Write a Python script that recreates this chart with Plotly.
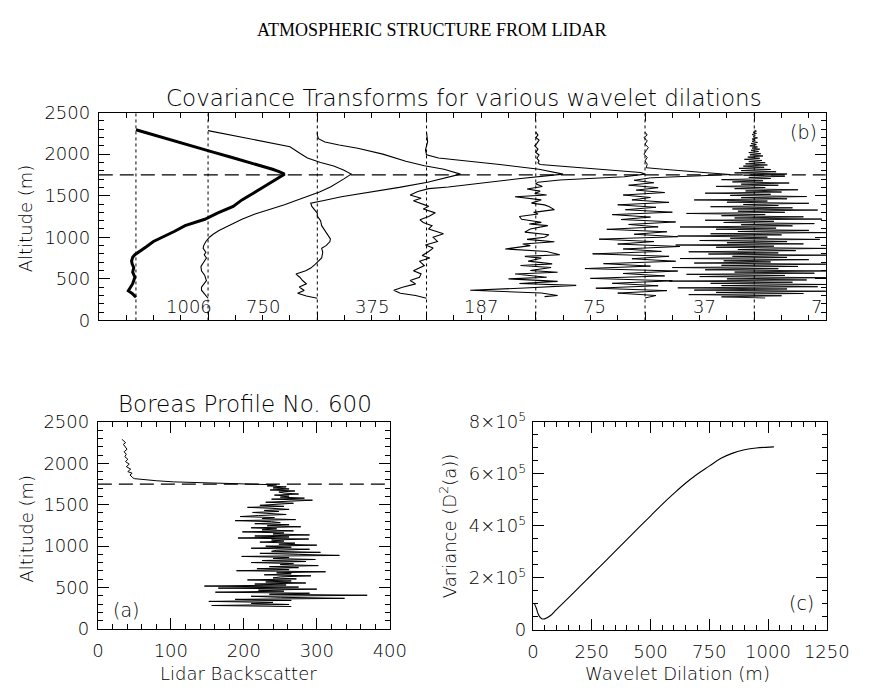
import numpy as np
import plotly.graph_objects as go

# ---------------------------------------------------------------
# Panel (b): Haar covariance transforms of the lidar profile
# (values are normalised covariance, plotted relative to a baseline)
# ---------------------------------------------------------------
DILATIONS = [1006, 750, 375, 187, 75, 37, 7]

ALT_1006 = [2294, 2200, 2100, 2031, 1960, 1895, 1818, 1790, 1760, 1720,
            1682, 1600, 1527, 1450, 1372, 1294, 1217, 1140, 1070, 1004,
            950, 887, 840, 791, 760, 713, 680, 636, 580, 520,
            480, 442, 400, 357, 320, 279]
COV_1006 = [0.00, 0.24, 0.50, 0.69, 0.88, 1.06, 1.25, 1.31, 1.36, 1.31,
            1.26, 1.16, 1.07, 0.97, 0.89, 0.75, 0.63, 0.45, 0.35, 0.24,
            0.16, 0.095, 0.04, -0.01, -0.03, -0.04, -0.035, -0.02, -0.03, -0.01,
            -0.02, -0.03, -0.05, -0.07, -0.03, 0.00]

ALT_750 = [2283, 2200, 2147, 2089, 2010, 1953, 1900, 1857, 1810, 1760,
           1700, 1650, 1605, 1545, 1488, 1430, 1392, 1333, 1280, 1217,
           1150, 1081, 1040, 1004, 950, 900, 868, 820, 790, 752,
           700, 650, 597, 540, 480, 430, 400, 364, 320, 267]
COV_750 = [0.00, 0.33, 0.55, 0.75, 0.84, 0.91, 1.03, 1.15, 1.24, 1.31,
           1.24, 1.17, 1.12, 1.02, 0.91, 0.78, 0.70, 0.55, 0.43, 0.31,
           0.20, 0.10, 0.05, 0.015, -0.02, -0.04, -0.045, -0.02, -0.035, -0.015,
           -0.04, -0.065, -0.06, -0.03, -0.015, -0.04, -0.06, -0.06, -0.03, 0.00]

ALT_375 = [2264, 2230, 2186, 2147, 2110, 2070, 2000, 1915, 1860, 1818,
           1760, 1710, 1663, 1600, 1547, 1488, 1440, 1411, 1372, 1330,
           1290, 1256, 1200, 1140, 1080, 1023, 980, 946, 900, 868,
           820, 752, 710, 674, 630, 597, 558, 520, 480, 440,
           403, 360, 326, 295, 267]
COV_375 = [0.00, 0.00, 0.01, 0.07, 0.20, 0.37, 0.60, 0.81, 0.98, 1.16,
           1.31, 1.16, 1.01, 0.75, 0.51, 0.22, 0.05, -0.06, -0.05, -0.02,
           0.00, 0.00, 0.03, 0.04, 0.07, 0.10, 0.12, 0.115, 0.08, 0.04,
           0.05, 0.04, 0.01, -0.02, -0.06, -0.106, -0.195, -0.16, -0.135, -0.10,
           -0.165, -0.12, -0.18, -0.10, 0.00]

ALT_187 = [2264, 2150, 2050, 1992, 1953, 1915, 1876, 1818, 1760, 1701,
           1651, 1605, 1585, 1550, 1508, 1470, 1440, 1411, 1372, 1340,
           1294, 1250, 1210, 1178, 1140, 1101, 1043, 1000, 950, 907,
           870, 829, 780, 750, 713, 660, 597, 560, 520, 480,
           440, 400, 364, 326, 300, 267]
COV_187 = [0.00, 0.01, -0.01, 0.00, 0.11, 0.40, 0.67, 1.03, 1.25, 0.82,
           0.52, 0.20, 0.02, -0.08, -0.15, -0.05, -0.12, -0.06, 0.02, -0.03,
           0.08, 0.02, -0.06, -0.03, 0.05, 0.02, 0.155, 0.06, 0.10, -0.01,
           0.06, 0.02, -0.04, 0.03, -0.065, -0.02, -0.12, -0.05, -0.065, -0.15,
           -0.10, -0.22, -0.30, -0.24, -0.10, 0.00]

ALT_75 = [2264, 2230, 2200, 2170, 2130, 2100, 2060, 2020, 1990, 1950,
          1920, 1895, 1876, 1850, 1820, 1800, 1779, 1760, 1729, 1690,
          1663, 1643, 1610, 1580, 1555, 1527, 1508, 1488, 1450, 1411,
          1390, 1370, 1333, 1300, 1280, 1250, 1217, 1180, 1160, 1140,
          1100, 1062, 1030, 1000, 975, 946, 920, 900, 860, 830,
          791, 770, 750, 713, 680, 660, 636, 600, 580, 558,
          520, 500, 470, 445, 422, 390, 364, 330, 300, 287]
COV_75 = [0.00, 0.02, 0.00, 0.03, 0.01, -0.01, 0.02, 0.00, 0.03, 0.01,
          0.03, 0.02, 0.04, 0.30, 0.55, 0.75, 0.96, 1.00, 0.81, 0.22,
          0.02, 0.00, 0.06, -0.08, 0.04, -0.01, 0.10, -0.19, 0.05, -0.04,
          0.08, 0.12, 0.17, -0.02, 0.02, -0.15, -0.13, 0.05, -0.06, 0.11,
          -0.05, -0.10, 0.12, 0.08, -0.08, 0.17, -0.12, -0.05, -0.28, 0.10,
          0.22, -0.10, 0.05, -0.07, 0.15, -0.14, 0.14, -0.05, 0.20, -0.19,
          0.10, -0.25, 0.20, -0.15, 0.37, -0.10, -0.60, 0.05, 0.20, 0.08]

ALT_37_UPPER = [2264, 2230, 2200, 2160, 2120, 2080, 2040, 2000, 1960, 1920,
                1880, 1837, 1818, 1798, 1779, 1755, 1740, 1728]
COV_37_UPPER = [0.00, 0.02, -0.01, 0.02, 0.00, 0.03, 0.01, -0.01, 0.02, 0.00,
                0.02, 0.01, 0.17, 0.33, 0.54, 0.78, 0.55, 0.25]
# lower part sampled on evenly spaced range gates between these altitudes
ALT_37_LOWER_RANGE = (1715, 270)
COV_37_LOWER = [0.05, -0.10, 0.08, -0.15, 0.12, -0.08, 0.18, -0.20, 0.05, -0.12,
                0.22, -0.25, 0.10, -0.18, 0.25, -0.30, 0.05, -0.22, 0.28, -0.15,
                0.12, -0.35, 0.20, -0.10, 0.30, -0.42, 0.08, -0.25, 0.32, -0.20,
                0.15, -0.48, 0.22, -0.12, 0.28, -0.38, 0.05, -0.55, 0.30, -0.20,
                0.18, -0.50, 0.25, -0.30, 0.12, -0.45, 0.20, -0.25, 0.10, 0.00]

ALT_7_RANGE = (2290, 270)
COV_7 = [0.00, 0.02, -0.01, 0.02, -0.02, 0.01, -0.01, 0.03, -0.02, 0.01,
         -0.02, 0.03, -0.03, 0.02, -0.04, 0.03, -0.02, 0.05, -0.03, 0.04,
         -0.05, 0.06, -0.04, 0.08, -0.06, 0.05, -0.09, 0.07, -0.05, 0.10,
         -0.08, 0.12, -0.10, 0.09, -0.14, 0.15, -0.12, 0.20, -0.18, 0.30,
         -0.10, 0.28, -0.05, 0.15, -0.30, 0.08, -0.20, 0.32, -0.12, 0.22,
         -0.35, 0.10, -0.18, 0.40, -0.08, 0.25, -0.45, 0.15, -0.22, 0.48,
         -0.12, 0.30, -0.55, 0.12, -0.25, 0.50, -0.10, 0.22, -0.40, 0.35,
         -0.20, 0.58, -0.15, 0.28, -0.62, 0.10, -0.30, 0.45, -0.18, 0.62,
         -0.45, 0.18, -0.28, 0.55, -0.12, 0.35, -0.68, 0.20, -0.35, 0.50,
         -0.15, 0.66, -0.40, 0.25, -0.70, 0.12, -0.22, 0.60, -0.50, 0.30,
         -0.25, 0.45, -0.72, 0.18, -0.35, 0.66, -0.15, 0.38, -0.60, 0.22,
         -0.42, 0.66, -0.20, 0.30, -0.68, 0.50, -0.28, 0.15, -0.55, 0.66,
         -0.30, 0.40, -0.75, 0.22, -0.45, 0.66, -0.18, 0.55, -0.62, 0.28,
         -0.50, 0.66, -0.25, 0.48, -0.78, 0.35, -0.40, 0.66, -0.30, 0.58,
         -0.70, 0.30, -0.55, 0.66, -0.35, 0.45, -0.60, 0.25, -0.30, 0.10]

# horizontal baseline of each transform and where its dilation label sits
BASELINES = [0.34, 1.0, 2.0, 3.0, 4.0, 5.0, 6.0]
LABEL_X = [0.83, 1.5, 2.5, 3.5, 4.54, 5.54, 6.57]
LABEL_ALT = 170
BL_TOP_ALT = 1750  # boundary-layer top

# ---------------------------------------------------------------
# Panel (a): lidar backscatter profile
# ---------------------------------------------------------------
ALT_PROFILE_TOP = [2290, 2270, 2250, 2230, 2200, 2170, 2140, 2110, 2080, 2050,
                   2020, 1990, 1960, 1930, 1900, 1880, 1860, 1840, 1825, 1815,
                   1800, 1790, 1776, 1765, 1756, 1750, 1745]
BACKSCATTER_TOP = [33, 36, 38, 35, 38, 40, 36, 39, 37, 41,
                   38, 43, 39, 45, 41, 47, 44, 46, 48, 50,
                   65, 80, 104, 140, 183, 210, 225]
ALT_PROFILE_LOWER_RANGE = (1740, 270)
BACKSCATTER_LOWER = [245, 232, 258, 240, 262, 236, 270, 248, 255, 275,
                     242, 262, 250, 283, 238, 294, 255, 230, 268, 245,
                     222, 255, 205, 240, 262, 228, 248, 212, 235, 258,
                     220, 195, 242, 225, 271, 188, 238, 250, 215, 262,
                     232, 278, 210, 245, 225, 268, 198, 255, 240, 290,
                     215, 262, 192, 289, 238, 255, 222, 270, 248, 300,
                     230, 265, 210, 290, 245, 238, 305, 222, 275, 331,
                     197, 262, 240, 298, 225, 285, 210, 268, 250, 302,
                     235, 275, 218, 262, 190, 312, 245, 265, 228, 292,
                     250, 240, 272, 205, 265, 230, 285, 215, 258, 146,
                     275, 165, 300, 220, 255, 161, 290, 235, 369, 210,
                     250, 338, 188, 265, 152, 240, 210, 262, 156, 265]

# ---------------------------------------------------------------
# Panel (c): wavelet variance spectrum
# ---------------------------------------------------------------
DILATION_C = [7, 15, 22, 30, 37, 50, 75, 100, 150, 200,
              250, 300, 375, 450, 500, 550, 600, 650, 700, 750,
              800, 850, 900, 950, 1006, 1025]
VARIANCE_C = [1.0e5, 0.82e5, 0.62e5, 0.49e5, 0.43e5, 0.42e5, 0.55e5, 0.78e5, 1.22e5, 1.67e5,
              2.12e5, 2.57e5, 3.25e5, 3.93e5, 4.38e5, 4.83e5, 5.25e5, 5.65e5, 6.0e5, 6.3e5,
              6.6e5, 6.8e5, 6.93e5, 7.0e5, 7.03e5, 7.04e5]
VAR_TICKS = [0, 2e5, 4e5, 6e5, 8e5]
VAR_TICKTEXT = ["0", "2×10<sup>5</sup>", "4×10<sup>5</sup>", "6×10<sup>5</sup>", "8×10<sup>5</sup>"]

# ---------------------------------------------------------------
FONT = "DejaVu Sans Light, DejaVu Sans"
INK = "black"

fig = go.Figure()

# transforms, each shifted onto its own baseline
transforms = [
    (ALT_1006, COV_1006, 3.0),
    (ALT_750, COV_750, 1.1),
    (ALT_375, COV_375, 1.1),
    (ALT_187, COV_187, 1.1),
    (ALT_75, COV_75, 1.1),
    (ALT_37_UPPER + list(np.linspace(*ALT_37_LOWER_RANGE, len(COV_37_LOWER))),
     COV_37_UPPER + COV_37_LOWER, 1.0),
    (list(np.linspace(*ALT_7_RANGE, len(COV_7))), COV_7, 0.9),
]
for (alt, cov, lw), base in zip(transforms, BASELINES):
    fig.add_trace(go.Scatter(
        x=[base + c for c in cov], y=alt, mode="lines",
        line=dict(color=INK, width=lw), xaxis="x", yaxis="y",
        showlegend=False, hoverinfo="skip"))

# dotted baselines
for base in BASELINES:
    fig.add_trace(go.Scatter(
        x=[base, base], y=[0, 2500], mode="lines",
        line=dict(color=INK, width=1, dash="dot"),
        xaxis="x", yaxis="y", showlegend=False, hoverinfo="skip"))

# boundary-layer top marker in (b)
fig.add_trace(go.Scatter(
    x=[0, 6.655], y=[BL_TOP_ALT, BL_TOP_ALT], mode="lines",
    line=dict(color=INK, width=1.2, dash="14px,7px"),
    xaxis="x", yaxis="y", showlegend=False, hoverinfo="skip"))

# profile (a)
alt_a = ALT_PROFILE_TOP + list(np.linspace(*ALT_PROFILE_LOWER_RANGE, len(BACKSCATTER_LOWER)))
fig.add_trace(go.Scatter(
    x=BACKSCATTER_TOP + BACKSCATTER_LOWER, y=alt_a, mode="lines",
    line=dict(color=INK, width=1.0), xaxis="x2", yaxis="y2",
    showlegend=False, hoverinfo="skip"))
fig.add_trace(go.Scatter(
    x=[0, 400], y=[BL_TOP_ALT, BL_TOP_ALT], mode="lines",
    line=dict(color=INK, width=1.2, dash="14px,7px"),
    xaxis="x2", yaxis="y2", showlegend=False, hoverinfo="skip"))

# variance (c)
fig.add_trace(go.Scatter(
    x=DILATION_C, y=VARIANCE_C, mode="lines", line=dict(color=INK, width=1.1, shape="spline"),
    xaxis="x3", yaxis="y3", showlegend=False, hoverinfo="skip"))


def frame(domain, rng, dtick, minor_dtick, ticklen=11, labels=True, **extra):
    ax = dict(domain=domain, range=rng, showline=True, linecolor=INK, linewidth=1,
              mirror="ticks", ticks="inside", ticklen=ticklen, tickwidth=1, tickcolor=INK,
              dtick=dtick, tick0=0, showgrid=False, zeroline=False,
              showticklabels=labels, tickfont=dict(family=FONT, size=18, color=INK),
              minor=dict(ticks="inside", ticklen=5, tickwidth=1, tickcolor=INK,
                         dtick=minor_dtick, tick0=0, showgrid=False),
              fixedrange=True)
    ax.update(extra)
    return ax


W, H = 873, 693


def px_x(a, b):
    return [a / W, b / W]


def px_y(top, bottom):
    return [1 - bottom / H, 1 - top / H]


fig.update_layout(
    width=W, height=H, margin=dict(l=0, r=0, t=0, b=0),
    paper_bgcolor="white", plot_bgcolor="white",
    xaxis=frame(px_x(96, 848), [0, 6.655], 1, 0.25, ticklen=8, labels=False, anchor="y"),
    yaxis=frame(px_y(103, 318), [0, 2500], 500, 100, anchor="x", ticklabelstandoff=4),
    xaxis2=frame(px_x(95, 397), [0, 400], 100, 20, anchor="y2", ticklabelstandoff=6),
    yaxis2=frame(px_y(423, 637), [0, 2500], 500, 100, anchor="x2", ticklabelstandoff=4),
    xaxis3=frame(px_x(545, 849), [0, 1250], 250, 50, anchor="y3", ticklabelstandoff=6),
    yaxis3=frame(px_y(423, 638), [0, 8e5], None, 0.5e5, anchor="x3",
                 tickvals=VAR_TICKS, ticktext=VAR_TICKTEXT, ticklabelstandoff=2),
)


def note(text, x, y, size=18, angle=0, family=FONT, **kw):
    fig.add_annotation(text=text, x=x / W, y=1 - y / H, xref="paper", yref="paper",
                       showarrow=False, textangle=angle, xanchor="center", yanchor="middle",
                       font=dict(family=family, size=size, color=INK), **kw)


note("ATMOSPHERIC STRUCTURE FROM LIDAR", 441, 18, size=18, family="Liberation Serif")
note("Covariance Transforms for various wavelet dilations", 474, 88, size=23)
note("Altitude (m)", 21, 212, angle=-90)
note("(b)", 825, 123, size=19)
note("Boreas Profile No. 600", 247, 404, size=23)
note("Altitude (m)", 21, 533, angle=-90)
note("Lidar Backscatter", 241, 683)
note("(a)", 124, 617, size=19)
note("Variance (D<sup>2</sup>(a))", 458, 530, angle=-90)
note("Wavelet Dilation (m)", 695, 683)
note("(c)", 823, 610, size=19)

for lab, lx in zip(DILATIONS, LABEL_X):
    fig.add_annotation(text=str(lab), x=lx, y=LABEL_ALT, xref="x", yref="y",
                       showarrow=False, xanchor="center", yanchor="middle",
                       font=dict(family=FONT, size=18, color=INK))

fig.write_html("out.html")
